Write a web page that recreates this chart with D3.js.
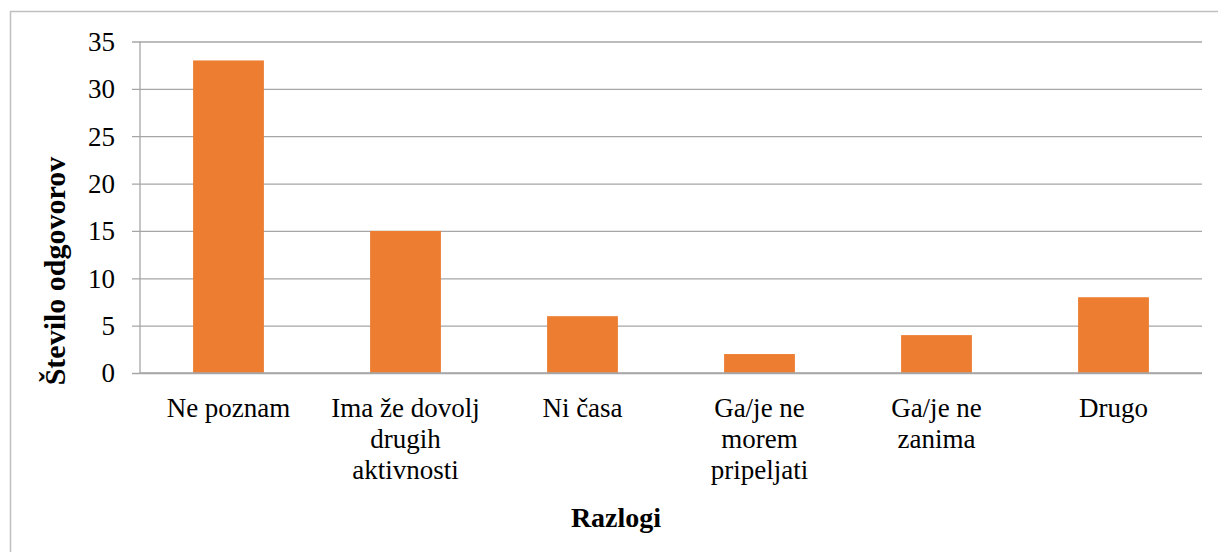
<!DOCTYPE html>
<html><head><meta charset="utf-8">
<script src="https://cdn.jsdelivr.net/npm/d3@7/dist/d3.min.js"></script>
</head><body style="margin:0">
<svg id="c" width="1218" height="552"></svg>
<script>
const categories = ["Ne poznam", "Ima že dovolj|drugih|aktivnosti", "Ni časa", "Ga/je ne|morem|pripeljati", "Ga/je ne|zanima", "Drugo"];
const values = [33, 15, 6, 2, 4, 8];
const yTicks = [0, 5, 10, 15, 20, 25, 30, 35];
const yTitle = "Število odgovorov";
const xTitle = "Razlogi";

const FONT = "Liberation Serif";
const svg = d3.select("#c");
const m = {left: 140, right: 1202, top: 41.5, bottom: 373};
const gridColor = "#a6a6a6";

svg.append("rect").attr("x", 10.5).attr("y", 11.5).attr("width", 1240).attr("height", 600)
  .attr("fill", "#fff").attr("stroke", "#bfbfbf").attr("stroke-width", 1.5);

const x = d3.scaleBand().domain(categories).range([m.left, m.right]).padding(0);
const y = d3.scaleLinear().domain([0, 35]).range([m.bottom, m.top]);

// gridlines with outside tick marks
const gy = svg.append("g").attr("transform", `translate(${m.left},0)`)
  .call(d3.axisLeft(y).tickValues(yTicks).tickFormat(""));
gy.select(".domain").remove();
gy.selectAll(".tick line").attr("stroke", gridColor).attr("stroke-width", 1.3).attr("x1", -8).attr("x2", m.right - m.left);

svg.append("line").attr("x1", m.left).attr("x2", m.left).attr("y1", m.top).attr("y2", m.bottom)
  .attr("stroke", gridColor).attr("stroke-width", 1.3);

// y tick labels
svg.selectAll("text.yl").data(yTicks).join("text").attr("class", "yl")
  .attr("x", 115).attr("y", d => y(d)).attr("dy", "0.35em")
  .attr("text-anchor", "end").style("font-family", FONT).attr("font-size", 27).attr("fill", "#000")
  .text(d => d);

// bars
const bw = x.bandwidth() * 0.4;
svg.append("g").selectAll("rect").data(values).join("rect")
  .attr("x", (d, i) => x(categories[i]) + x.bandwidth() / 2 - bw / 2)
  .attr("width", bw)
  .attr("y", d => y(d))
  .attr("height", d => y(0) - y(d))
  .attr("fill", "#ed7d31");

svg.append("line").attr("x1", m.left).attr("x2", m.right).attr("y1", m.bottom).attr("y2", m.bottom)
  .attr("stroke", gridColor).attr("stroke-width", 1.3);

// category labels
const cl = svg.selectAll("text.cl").data(categories).join("text").attr("class", "cl")
  .attr("x", d => x(d) + x.bandwidth() / 2)
  .attr("y", 416.5)
  .attr("text-anchor", "middle").style("font-family", FONT).attr("font-size", 27).attr("fill", "#000");
cl.each(function(d) {
  const t = d3.select(this);
  d.split("|").forEach((line, i) => {
    t.append("tspan").attr("x", x(d) + x.bandwidth() / 2).attr("dy", i === 0 ? 0 : 31.3).text(line);
  });
});

// axis titles
svg.append("text").attr("transform", `translate(65,271) rotate(-90)`)
  .attr("text-anchor", "middle").style("font-family", FONT).attr("font-size", 30).attr("font-weight", "bold")
  .text(yTitle);
svg.append("text").attr("x", 616).attr("y", 527)
  .attr("text-anchor", "middle").style("font-family", FONT).attr("font-size", 28).attr("font-weight", "bold")
  .text(xTitle);
</script>
</body></html>
